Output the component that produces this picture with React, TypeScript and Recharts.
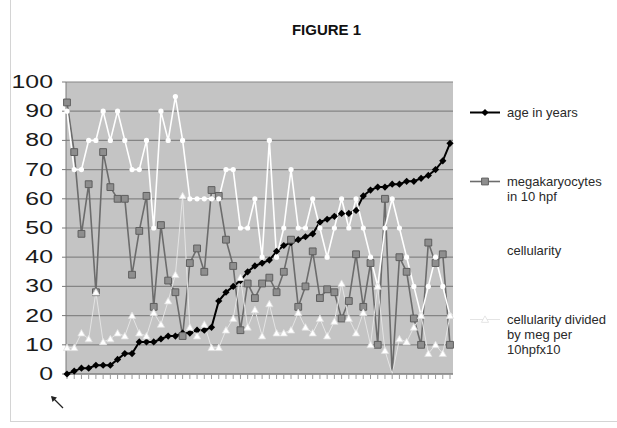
import React from "react";
import { CartesianGrid, Line, LineChart, XAxis, YAxis } from "recharts";

// one entry per patient, sorted by age
const ageYears = [
  0, 1, 2, 2, 3, 3, 3, 5, 7, 7, 11, 11, 11, 12, 13, 13, 14, 14, 15, 15, 16, 25, 28, 30, 32, 35, 37,
  38, 39, 42, 44, 45, 46, 47, 48, 52, 53, 54, 55, 55, 56, 61, 63, 64, 64, 65, 65, 66, 66, 67, 68, 70,
  73, 79,
];
const megaPer10hpf = [
  93, 76, 48, 65, 28, 76, 64, 60, 60, 34, 49, 61, 23, 51, 32, 28, 13, 38, 43, 35, 63, 61, 46, 37, 15,
  31, 26, 31, 33, 28, 35, 46, 23, 30, 42, 26, 29, 28, 19, 25, 41, 23, 38, 10, 60, 0, 40, 35, 19, 10,
  45, 38, 41, 10,
];
const cellularity = [
  90, 70, 70, 80, 80, 90, 80, 90, 80, 70, 70, 80, 50, 90, 80, 95, 80, 60, 60, 60, 60, 60, 70, 70, 50,
  50, 60, 40, 80, 40, 50, 70, 50, 50, 60, 50, 40, 50, 60, 50, 60, 50, 40, 30, 50, 60, 50, 40, 30, 20,
  30, 40, 30, 20,
];
const cellPerMeg = [
  9, 9, 14, 12, 28, 11, 12, 14, 13, 20, 14, 13, 21, 17, 25, 34, 61, 16, 13, 17, 9, 9, 15, 19, 33, 16,
  22, 13, 24, 14, 14, 15, 21, 16, 14, 19, 13, 18, 31, 19, 14, 21, 10, 30, 8, 0, 12, 11, 16, 20, 7, 10,
  7, 20,
];
const yTicks = [0, 10, 20, 30, 40, 50, 60, 70, 80, 90, 100];

const data = ageYears.map((age, i) => ({
  patient: String(i + 1),
  age,
  mega: megaPer10hpf[i],
  cell: cellularity[i],
  ratio: cellPerMeg[i],
}));

const FONT = '"Liberation Sans", Arial, sans-serif';

const diamond = (cx: number, cy: number, r: number) =>
  `M${cx},${cy - r}L${cx + r},${cy}L${cx},${cy + r}L${cx - r},${cy}Z`;
const square = (cx: number, cy: number, r: number) =>
  `M${cx - r},${cy - r}h${2 * r}v${2 * r}h${-2 * r}Z`;
const triangle = (cx: number, cy: number, r: number) =>
  `M${cx},${cy - r}L${cx + r},${cy + r * 0.8}L${cx - r},${cy + r * 0.8}Z`;

const series = [
  {
    key: "age",
    label: ["age in years"],
    stroke: "#000000",
    width: 2,
    marker: (cx: number, cy: number) => <path d={diamond(cx, cy, 3.6)} fill="#000" />,
  },
  {
    key: "mega",
    label: ["megakaryocytes", "in 10 hpf"],
    stroke: "#6c6c6c",
    width: 1.6,
    marker: (cx: number, cy: number) => (
      <path d={square(cx, cy, 3.4)} fill="#8e8e8e" stroke="#5e5e5e" strokeWidth={1} />
    ),
  },
  {
    key: "cell",
    label: ["cellularity"],
    stroke: "#ffffff",
    width: 1.6,
    marker: (cx: number, cy: number) => <circle cx={cx} cy={cy} r={2.6} fill="#ffffff" />,
  },
  {
    key: "ratio",
    label: ["cellularity divided", "by meg per", "10hpfx10"],
    stroke: "#e4e4e4",
    width: 1,
    marker: (cx: number, cy: number) => (
      <path d={triangle(cx, cy, 3.6)} fill="#ffffff" stroke="#e0e0e0" strokeWidth={0.8} />
    ),
  },
];

function LegendBox() {
  const tops = [0, 69, 138, 207];
  return (
    <div style={{ position: "absolute", left: 466, top: 105, width: 150, height: 250 }}>
      {series.map((s, i) => (
        <div key={s.key} style={{ position: "absolute", left: 0, top: tops[i] }}>
          <svg width={36} height={15} style={{ position: "absolute", left: 0, top: 0 }}>
            <line x1={4} x2={34} y1={7.5} y2={7.5} stroke={s.stroke} strokeWidth={s.width} />
            {s.marker(19, 7.5)}
          </svg>
          <div
            style={{
              position: "absolute",
              left: 41,
              top: 0,
              fontSize: 13,
              lineHeight: "15px",
              color: "#2a2a2a",
              whiteSpace: "nowrap",
            }}
          >
            {s.label.map((t) => (
              <div key={t}>{t}</div>
            ))}
          </div>
        </div>
      ))}
    </div>
  );
}

// the scanned figure is stretched sideways, so the axis numbers are widened to match
function YTick(props: any) {
  const { x, y, payload } = props;
  return (
    <text
      transform={`translate(${x},${y + 6}) scale(1.38,1)`}
      textAnchor="end"
      fontSize={18}
      fontFamily={FONT}
      fill="#1a1a1a"
    >
      {payload.value}
    </text>
  );
}

export default function App() {
  return (
    <div
      style={{
        position: "absolute",
        left: 0,
        top: 0,
        width: 617,
        height: 428,
        background: "#fff",
        fontFamily: FONT,
        overflow: "hidden",
      }}
    >
      <div
        style={{
          position: "absolute",
          left: 10,
          top: -2,
          width: 620,
          height: 423,
          borderLeft: "1px solid #d4d4d4",
          borderBottom: "1px solid #d4d4d4",
        }}
      />
      <div
        style={{
          position: "absolute",
          left: 0,
          width: 617,
          top: 21,
          textAlign: "center",
          fontSize: 15,
          fontWeight: "bold",
          color: "#111",
          paddingLeft: 18,
        }}
      >
        FIGURE 1
      </div>
      <LineChart
        width={617}
        height={428}
        data={data}
        margin={{ top: 82, right: 164, bottom: 0, left: 0 }}
        style={{ position: "absolute", left: 0, top: 0 }}
      >
        <CartesianGrid
          vertical={false}
          horizontal
          fill="#c4c4c4"
          fillOpacity={1}
          stroke="#858585"
          strokeWidth={1.2}
        />
        <XAxis
          dataKey="patient"
          interval={0}
          height={54}
          tickSize={5}
          tickFormatter={() => ""}
          axisLine={{ stroke: "#7a7a7a" }}
          tickLine={{ stroke: "#9a9a9a" }}
          padding={{ left: 1, right: 3 }}
        />
        <YAxis
          domain={[0, 100]}
          ticks={yTicks}
          width={66}
          tickSize={4}
          tickMargin={9}
          axisLine={{ stroke: "#7a7a7a" }}
          tickLine={{ stroke: "#7a7a7a" }}
          tick={<YTick />}
        />
        <YAxis
          yAxisId="frame"
          orientation="right"
          width={0}
          tick={false}
          tickLine={false}
          axisLine={{ stroke: "#9a9a9a" }}
        />
        {series.map((s) => (
          <Line
            key={s.key}
            dataKey={s.key}
            type="linear"
            stroke={s.stroke}
            strokeWidth={s.width}
            isAnimationActive={false}
            activeDot={false}
            dot={(p: any) => (
              // markers that sit on the x axis are hidden by it in the original
              <g key={`${s.key}-${p.index}`}>{p.value === 0 && s.key !== "age" ? null : s.marker(p.cx, p.cy)}</g>
            )}
          />
        ))}
      </LineChart>
      <LegendBox />
      <svg width={20} height={20} style={{ position: "absolute", left: 48, top: 393 }}>
        <line x1={4} y1={4} x2={15} y2={15} stroke="#222" strokeWidth={1.3} />
        <path d="M3,3 L9,4.5 L4.5,9 Z" fill="#222" />
      </svg>
    </div>
  );
}
